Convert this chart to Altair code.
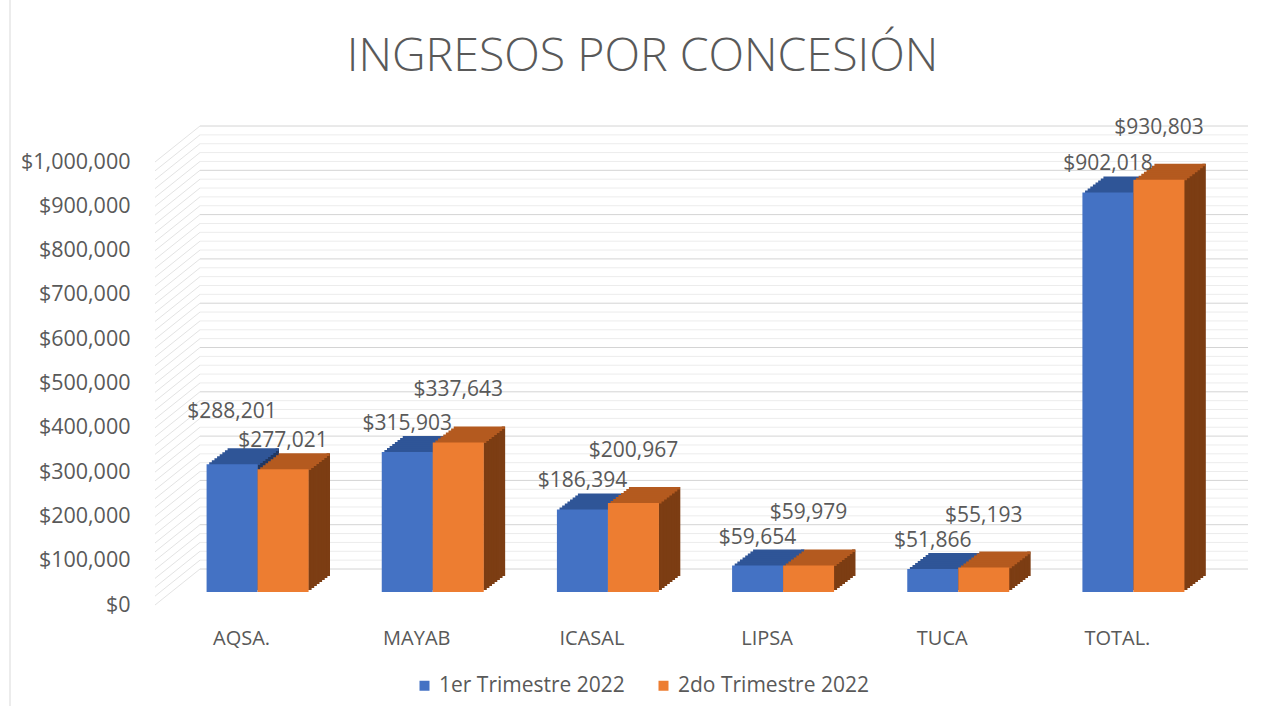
import altair as alt
import pandas as pd

# ---------------- data ----------------
categorias = ["AQSA.", "MAYAB", "ICASAL", "LIPSA", "TUCA", "TOTAL."]
series = ["1er Trimestre 2022", "2do Trimestre 2022"]
trim1 = [288201, 315903, 186394, 59654, 51866, 902018]
trim2 = [277021, 337643, 200967, 59979, 55193, 930803]
y_ticks = list(range(0, 1000001, 100000))
grid_vals = list(range(0, 1000001, 20000))

rows = []
for c, a, b in zip(categorias, trim1, trim2):
    rows.append({"concesion": c, "serie": series[0], "valor": a})
    rows.append({"concesion": c, "serie": series[1], "valor": b})
df = pd.DataFrame(rows)
grid = pd.DataFrame({"v": grid_vals, "mayor": [v % 100000 == 0 for v in grid_vals]})

# ---------------- style ----------------
W, H = 1051, 443
BAR_W = 51
DX, DY = 21, 16          # 3D depth of the bars (px)
N = 8                    # steps used to draw the slanted faces
FONT = "Open Sans"
TXT = "#595959"
FRONT = ["#4472c4", "#ed7d31"]
TOP = ["#2f5597", "#b45a1f"]
SIDE = ["#203864", "#7c3d13"]
OFFS = [-BAR_W / 2, BAR_W / 2]

xscale = alt.Scale(domain=categorias, paddingInner=0, paddingOuter=0)
xaxis = alt.Axis(title=None, labelFont=FONT, labelFontSize=20, labelColor=TXT,
                 labelAngle=0, ticks=False, domain=False, labelPadding=36,
                 labelOffset=-16, grid=False)
yscale = alt.Scale(domain=[0, 1000000], nice=False, zero=True)
yaxis = alt.Axis(title=None, values=y_ticks, format="$,.0f", labelFont=FONT,
                 labelFontSize=21.5, labelColor=TXT, ticks=False, domain=False,
                 labelPadding=40, labelOffset=13, grid=False)


def X():
    return alt.X("concesion:N", sort=categorias, scale=xscale, axis=xaxis)


def Y(field="valor"):
    return alt.Y(f"{field}:Q", scale=yscale, axis=yaxis)


base = alt.Chart(df)
layers = []

# back wall grid lines
layers.append(
    alt.Chart(grid).mark_rule(yOffset=-23, strokeWidth=1).encode(
        y=Y("v"), x=alt.value(30), x2=alt.value(1078),
        color=alt.condition("datum.mayor", alt.value("#d4d4d4"), alt.value("#ececec")),
    )
)
# left wall slanted grid lines
layers.append(
    alt.Chart(grid).mark_rule(yOffset=13, y2Offset=-23, strokeWidth=1).encode(
        y=Y("v"), y2=alt.Y2("v"), x=alt.value(-15), x2=alt.value(30),
        color=alt.value("#e3e3e3"),
    )
)

# 3D faces: side then top per series
for i, s in enumerate(series):
    sub = base.transform_filter(alt.datum.serie == s)
    for k in range(1, N + 1):
        t = k / N
        layers.append(
            sub.mark_bar(
                width=DX / N + 0.8,
                xOffset=OFFS[i] + BAR_W / 2 + DX * t - DX / (2 * N),
                yOffset=-DY * t, y2Offset=-DY * t,
                color=SIDE[i],
            ).encode(x=X(), y=Y(), y2=alt.datum(0))
        )
    for k in range(1, N + 1):
        t = k / N
        layers.append(
            sub.mark_bar(
                width=BAR_W,
                xOffset=OFFS[i] + DX * t,
                yOffset=-DY * t, y2Offset=-DY * (t - 1 / N) + 0.6,
                color=TOP[i],
            ).encode(x=X(), y=Y(), y2=alt.Y2("valor:Q"))
        )

# front faces (with legend)
color = alt.Color(
    "serie:N",
    scale=alt.Scale(domain=series, range=FRONT),
    legend=alt.Legend(
        title=None, orient="none", direction="horizontal", legendX=244, legendY=526,
        symbolType="square", symbolSize=100, symbolStrokeWidth=0,
        labelFont=FONT, labelFontSize=21, labelColor=TXT, labelOffset=4,
        labelLimit=400, columnPadding=28, padding=0,
    ),
)
for i, s in enumerate(series):
    layers.append(
        base.transform_filter(alt.datum.serie == s)
        .mark_bar(width=BAR_W, xOffset=OFFS[i])
        .encode(x=X(), y=Y(), color=color)
    )

# data labels: the taller bar of each pair is labelled higher
for i, s in enumerate(series):
    lab = (
        base.transform_joinaggregate(maximo="max(valor)", groupby=["concesion"])
        .transform_calculate(alto="datum.valor == datum.maximo")
        .transform_filter(alt.datum.serie == s)
    )
    for cond, dy in (("datum.alto", -52), ("!datum.alto", -28)):
        layers.append(
            lab.transform_filter(cond)
            .mark_text(dy=dy, xOffset=OFFS[i], font=FONT, fontSize=21, color=TXT)
            .encode(x=X(), y=Y(), text=alt.Text("valor:Q", format="$,.0f"))
        )

# chart frame (left edge)
layers.append(
    alt.Chart(grid.head(1)).mark_rule(color="#d9d9d9").encode(
        x=alt.value(-160), y=alt.value(-149), y2=alt.value(557)
    )
)

chart = (
    alt.layer(*layers)
    .properties(
        width=W, height=H,
        background="white",
        autosize=alt.AutoSizeParams(type="none"),
        padding={"left": 170, "top": 149, "right": 51, "bottom": 114},
        title=alt.TitleParams(
            "INGRESOS POR CONCESIÓN", font=FONT, fontSize=46.5, fontWeight=300,
            color=TXT, anchor="middle", frame="group", dx=-53, offset=0, dy=81,
        ),
    )
    .configure_view(strokeWidth=0, stroke="transparent")
)

chart.save("out.html", embed_options={"renderer": "svg", "actions": False})
